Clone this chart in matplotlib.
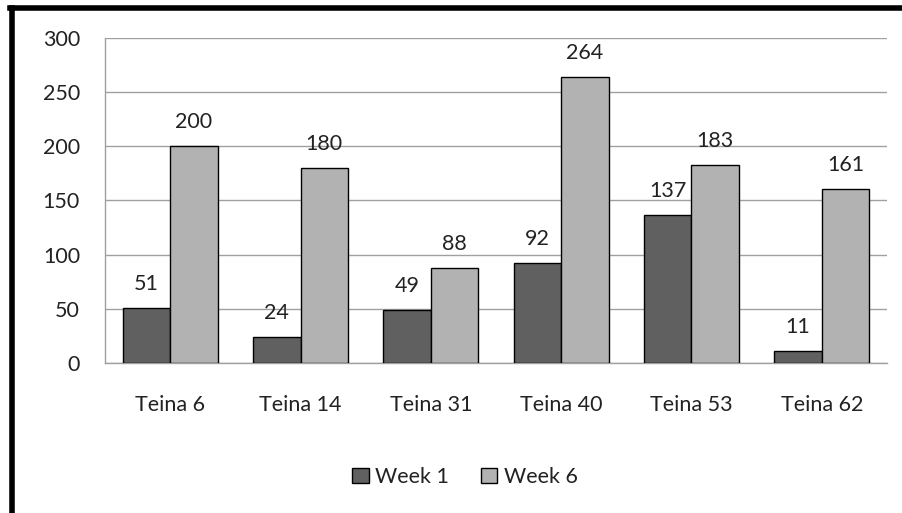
import matplotlib
matplotlib.use("Agg")
import matplotlib.pyplot as plt
import numpy as np
from matplotlib.patches import Rectangle
from matplotlib.lines import Line2D

categories = ["Teina 6", "Teina 14", "Teina 31", "Teina 40", "Teina 53", "Teina 62"]
week1 = [51, 24, 49, 92, 137, 11]
week6 = [200, 180, 88, 264, 183, 161]
series_names = ["Week 1", "Week 6"]
yticks = [0, 50, 100, 150, 200, 250, 300]

plt.rcParams['font.family'] = ['Lato', 'DejaVu Sans']
FS = 15.5
W, H = 902, 513
fig = plt.figure(figsize=(W/100, H/100), dpi=100)

ax = fig.add_axes([105/W, 1-363/H, (887-105)/W, (363-38)/H])
x = np.arange(len(categories))
bw = 0.365
c1, c6 = "#606060", "#b2b2b2"
b1 = ax.bar(x - bw/2, week1, bw, color=c1, edgecolor="black", linewidth=1, zorder=3)
b6 = ax.bar(x + bw/2, week6, bw, color=c6, edgecolor="black", linewidth=1, zorder=3)

for bars, vals in ((b1, week1), (b6, week6)):
    for r, v in zip(bars, vals):
        ax.annotate(str(v), (r.get_x() + r.get_width()/2, v), xytext=(0, 10),
                    textcoords="offset points", ha="center", va="bottom",
                    fontsize=FS, color="#222222")

ax.set_xlim(-0.5, len(categories) - 0.5)
ax.set_ylim(0, 300)
ax.set_yticks(yticks)
ax.set_yticklabels([str(t) for t in yticks], fontsize=FS, color="#222222")
ax.set_xticks(x)
ax.set_xticklabels(categories, fontsize=FS, color="#222222")
ax.tick_params(axis='y', length=0, pad=18)
ax.tick_params(axis='x', length=0, pad=23)
ax.grid(axis='y', color="#a0a0a0", linewidth=1, zorder=0)
for s in ("top", "right"):
    ax.spines[s].set_visible(False)
for s in ("left", "bottom"):
    ax.spines[s].set_color("#a0a0a0")
    ax.spines[s].set_linewidth(1)

handles = [Rectangle((0, 0), 1, 1, facecolor=c1, edgecolor="black", linewidth=1),
           Rectangle((0, 0), 1, 1, facecolor=c6, edgecolor="black", linewidth=1)]
fig.legend(handles, series_names, loc="center", bbox_to_anchor=(465/W, 1-477/H),
           ncol=2, frameon=False, fontsize=FS, handlelength=0.75, handleheight=0.75,
           handletextpad=0.3, columnspacing=1.5, labelcolor="#222222")

# black border (top and left)
fig.add_artist(Line2D([12/W, 12/W], [0, 1-8/H], color="black", linewidth=4, transform=fig.transFigure))
fig.add_artist(Line2D([10/W, 1], [1-8/H, 1-8/H], color="black", linewidth=4, transform=fig.transFigure))

fig.savefig("out.png", dpi=100)
